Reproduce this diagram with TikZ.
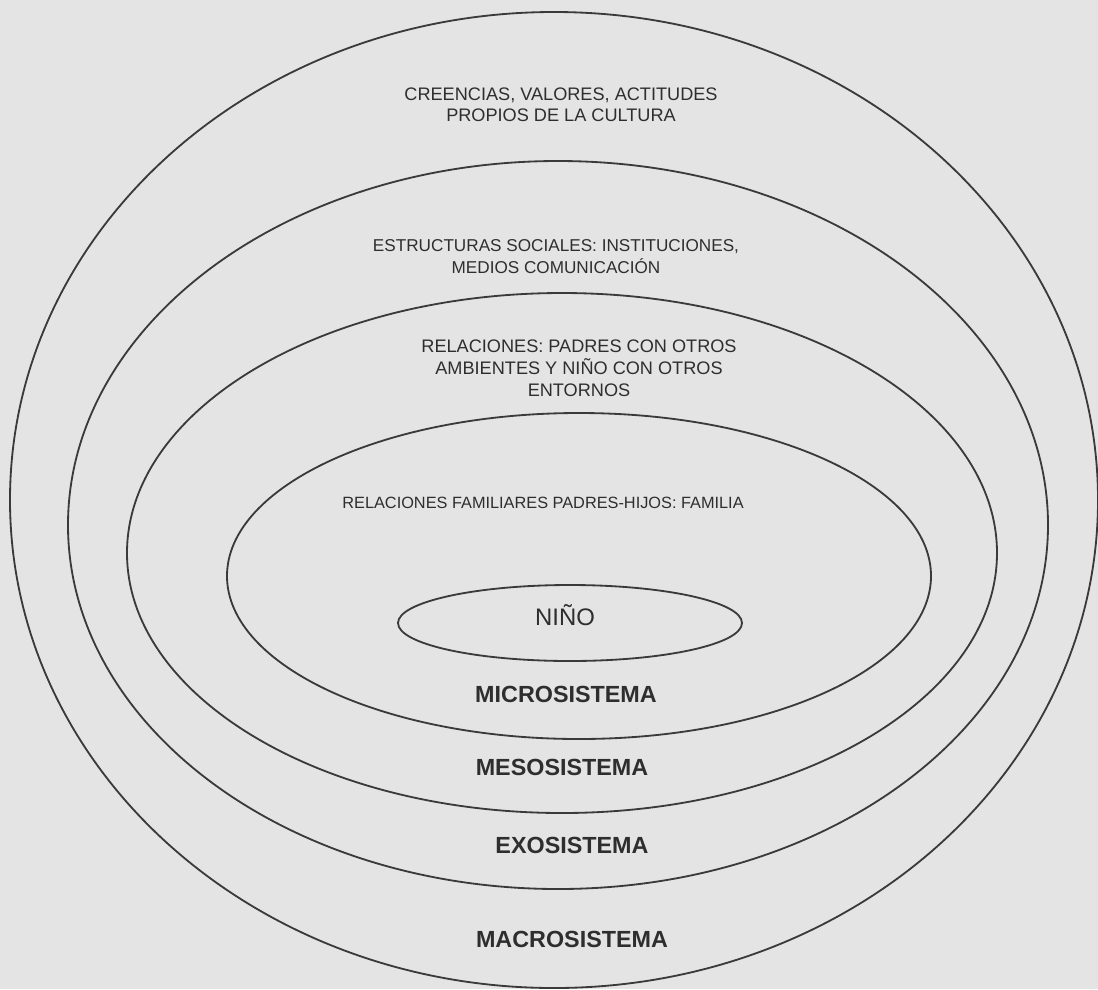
\documentclass[tikz,border=0pt]{standalone}
\usepackage{fontspec}
\setmainfont{Liberation Sans}
\usepackage{tikz}

\definecolor{fondo}{HTML}{E4E4E4}
\definecolor{linea}{HTML}{3A3A3A}
\definecolor{texto}{HTML}{2E2E2E}

\tikzset{
  capa/.style={draw=linea, line width=1.3pt},
  rotulo/.style={text=texto, align=center, inner sep=0pt, font=\fontsize{12.9}{15}\selectfont},
  sistema/.style={text=texto, inner sep=0pt, anchor=base, font=\fontsize{16.6}{19}\selectfont\bfseries}
}

\begin{document}
\begin{tikzpicture}[x=0.025cm, y=-0.025cm]
    % Fondo
    \fill[fondo] (0,0) rectangle (1098,989);
    \useasboundingbox (0,0) rectangle (1098,989);

    % Elipses
    \draw[capa] (554,500) ellipse (544 and 488);
    \draw[capa] (558,525) ellipse (490 and 364);
    \draw[capa] (562,553) ellipse (435 and 260);
    \draw[capa] (579,576) ellipse (352 and 163);
    \draw[capa] (570,623) ellipse (172 and 38);

    % Textos de cada nivel
    \node[rotulo] (cultura) at (561,105) {CREENCIAS, VALORES, ACTITUDES\\PROPIOS DE LA CULTURA};
    \node[rotulo, font=\fontsize{12.2}{15.6}\selectfont] (estructuras) at (556,257) {ESTRUCTURAS SOCIALES: INSTITUCIONES,\\MEDIOS COMUNICACIÓN};
    \node[rotulo, font=\fontsize{12.9}{15.6}\selectfont] (relaciones) at (579,368) {RELACIONES: PADRES CON OTROS\\AMBIENTES Y NIÑO CON OTROS\\ENTORNOS};
    \node[rotulo, anchor=base, font=\fontsize{11.6}{14}\selectfont] (familia) at (543,508) {RELACIONES FAMILIARES PADRES-HIJOS: FAMILIA};
    \node[text=texto, inner sep=0pt, anchor=base, font=\fontsize{17}{20}\selectfont] (nino) at (565,625) {NIÑO};

    % Nombres de los sistemas
    \node[sistema] (micro) at (566,702) {MICROSISTEMA};
    \node[sistema] (meso) at (562,775) {MESOSISTEMA};
    \node[sistema] (exo) at (572,853) {EXOSISTEMA};
    \node[sistema] (macro) at (572,947) {MACROSISTEMA};
\end{tikzpicture}
\end{document}
